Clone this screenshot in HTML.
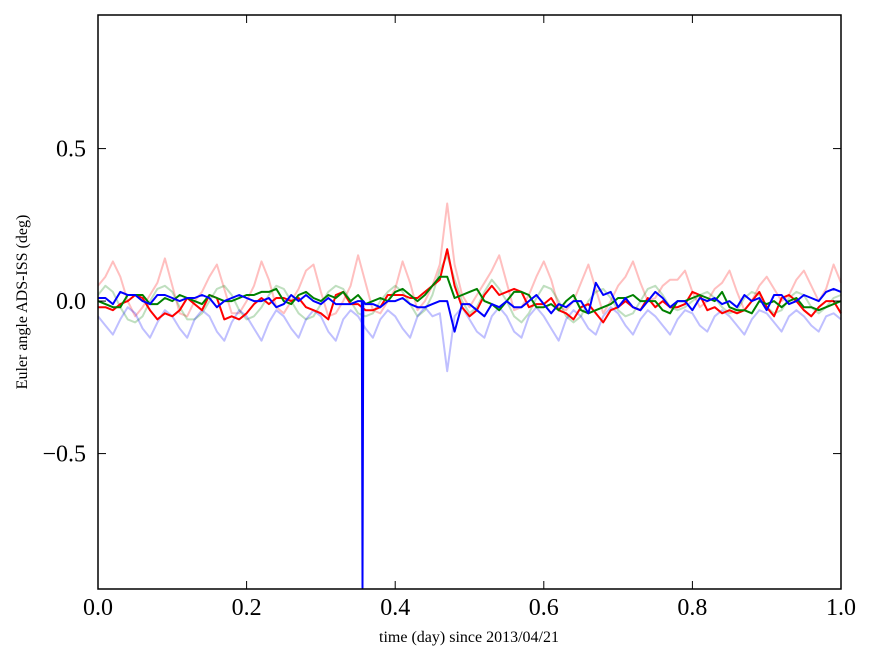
<!DOCTYPE html>
<html><head><meta charset="utf-8"><style>
html,body{margin:0;padding:0;background:#fff;width:875px;height:662px;overflow:hidden}
svg text{font-family:"Liberation Serif",serif}
</style></head><body>
<svg id="chart" width="875" height="662" xmlns="http://www.w3.org/2000/svg">
<g id="series"></g>
<g id="axes"></g>
<text x="469" y="642" font-size="16" text-anchor="middle">time (day) since 2013/04/21</text>
<text transform="translate(27,302) rotate(-90)" font-size="16" text-anchor="middle">Euler angle ADS-ISS (deg)</text>
</svg>
<script>
const times=[0,.01,.02,.03,.04,.05,.06,.07,.08,.09,.1,.11,.12,.13,.14,.15,.16,.17,.18,.19,.2,.21,.22,.23,.24,.25,.26,.27,.28,.29,.3,.31,.32,.33,.34,.35,.36,.37,.38,.39,.4,.41,.42,.43,.44,.45,.46,.47,.48,.49,.5,.51,.52,.53,.54,.55,.56,.57,.58,.59,.6,.61,.62,.63,.64,.65,.66,.67,.68,.69,.7,.71,.72,.73,.74,.75,.76,.77,.78,.79,.8,.81,.82,.83,.84,.85,.86,.87,.88,.89,.9,.91,.92,.93,.94,.95,.96,.97,.98,.99,1];
const faintRed=[.05,.08,.13,.08,0,-.05,-.02,.02,.06,.14,.05,-.04,-.05,0,.03,.08,.12,.04,-.04,-.04,0,.05,.13,.07,-.02,-.04,0,.04,.1,.12,.03,-.05,-.04,0,.05,.15,.06,-.03,-.04,0,.04,.13,.06,-.03,0,.05,.12,.32,.12,.02,-.02,.02,.06,.1,.15,.06,-.03,-.02,.02,.08,.13,.07,-.02,-.03,0,.06,.12,.04,-.04,0,.05,.08,.13,.06,0,.01,.05,.07,.07,.1,.03,-.02,0,.04,.06,.1,.03,-.03,0,.05,.08,.04,0,.02,.07,.1,.05,0,.04,.12,.06];
const faintGreen=[.02,.05,.03,-.02,-.06,-.07,-.05,0,.04,.05,.03,-.02,-.06,-.06,-.04,0,.04,.05,.02,-.03,-.06,-.05,-.02,.02,.05,.04,0,-.04,-.06,-.05,-.01,.03,.05,.04,0,-.04,-.05,-.04,0,.03,.05,.03,-.01,-.05,-.03,.02,.1,.15,.07,0,-.04,-.02,.03,.07,.04,0,-.05,-.07,-.04,.01,.05,.04,0,-.05,-.07,-.05,0,.03,.04,.01,-.03,-.05,-.04,0,.04,.05,.02,-.02,-.03,-.02,0,.02,.03,.01,-.02,-.04,-.03,.01,.03,.02,-.02,-.04,-.03,.01,.03,.02,-.02,-.04,-.02,.01,.02];
const faintBlue=[-.05,-.08,-.11,-.06,-.02,-.04,-.09,-.12,-.07,-.03,-.05,-.09,-.12,-.06,-.03,-.05,-.1,-.13,-.07,-.03,-.05,-.09,-.13,-.07,-.03,-.05,-.09,-.12,-.06,-.03,-.05,-.1,-.13,-.06,-.03,-.05,-.09,-.12,-.06,-.03,-.05,-.09,-.12,-.05,-.02,-.05,-.04,-.23,-.05,-.02,-.06,-.1,-.12,-.05,-.02,-.05,-.1,-.12,-.05,-.02,-.05,-.09,-.13,-.06,-.03,-.05,-.09,-.11,-.05,-.02,-.04,-.08,-.11,-.06,-.03,-.05,-.08,-.11,-.06,-.03,-.04,-.08,-.1,-.05,-.03,-.05,-.08,-.11,-.06,-.03,-.04,-.07,-.1,-.05,-.03,-.05,-.08,-.1,-.05,-.04,-.06];
const red=[-.02,-.02,-.03,-.01,0,.02,.01,-.03,-.06,-.04,-.05,-.03,.01,-.01,-.03,.02,.01,-.06,-.05,-.06,-.04,-.01,.01,-.01,.01,.01,.0,.01,-.02,-.03,-.04,-.06,.02,.03,-.01,-.01,-.03,-.03,-.02,.02,.02,.02,.01,.01,.03,.05,.07,.17,.05,-.02,-.05,-.03,.02,.05,.02,.03,.04,.03,-.02,-.01,-.01,.01,-.03,-.04,-.06,-.02,-.01,-.04,-.07,-.03,-.02,.0,-.02,-.03,.01,-.02,.0,-.02,-.02,-.01,.03,.02,-.03,-.02,-.04,-.03,-.04,-.03,.0,.03,-.02,-.05,.01,.02,.0,-.03,-.05,-.02,.0,.0,-.04];
const green=[0,-.01,-.02,-.02,.02,.02,.02,-.01,-.01,.01,.0,.02,.01,.0,-.01,.02,.01,.0,.0,.01,.02,.02,.03,.03,.04,.0,-.01,.02,.03,.01,.0,.02,.01,.03,.0,.02,-.01,.0,.01,.0,.03,.04,.02,.0,.02,.05,.08,.08,.01,.02,.03,.04,.0,-.01,-.03,.0,.03,.03,.02,-.02,-.02,-.01,-.03,.0,.02,-.03,-.04,-.03,-.02,-.01,.01,.01,.02,.0,.0,.0,-.03,-.04,.0,.0,.01,.02,.01,.0,.03,-.02,-.03,-.03,-.04,.0,-.01,.0,-.02,.0,.01,-.02,-.02,-.03,-.02,-.01,.0];
const blueTimes=[0,.01,.02,.03,.04,.05,.06,.07,.08,.09,.1,.11,.12,.13,.14,.15,.16,.17,.18,.19,.2,.21,.22,.23,.24,.25,.26,.27,.28,.29,.3,.31,.32,.33,.34,.35,.355,.356,.357,.36,.37,.38,.39,.4,.41,.42,.43,.44,.45,.46,.47,.48,.49,.5,.51,.52,.53,.54,.55,.56,.57,.58,.59,.6,.61,.62,.63,.64,.65,.66,.67,.68,.69,.7,.71,.72,.73,.74,.75,.76,.77,.78,.79,.8,.81,.82,.83,.84,.85,.86,.87,.88,.89,.9,.91,.92,.93,.94,.95,.96,.97,.98,.99,1];
const blue=[.01,.01,-.01,.03,.02,.02,.0,-.01,.02,.02,.01,.0,.01,.01,.02,.01,-.02,.0,.01,.02,.01,.0,.0,.01,-.02,-.01,.02,.0,.02,.0,-.01,.01,-.01,-.01,-.01,.0,.0,-.94,.0,-.01,-.01,-.02,.0,.0,.01,-.01,-.02,-.02,-.01,.0,.0,-.1,-.01,-.01,-.03,-.05,-.01,-.02,.0,-.02,-.02,.0,.02,-.01,-.04,-.01,-.02,.0,.0,-.04,.06,.02,.03,-.02,.01,-.02,-.03,.0,.03,.01,-.02,.0,.0,-.03,.01,.0,.01,-.01,.0,-.02,.02,.0,.01,-.03,.02,.02,-.01,.0,.02,.01,.0,.03,.04,.03];
const xTicks=[0,.2,.4,.6,.8,1];
const xTickLabels=["0.0","0.2","0.4","0.6","0.8","1.0"];
const yTicks=[.5,0,-.5];
const yTickLabels=["0.5","0.0","\u22120.5"];

const L=98,R=841,T=15,B=589,ymax=.938,ymin=-.944;
const X=v=>L+(v-0)/(1-0)*(R-L);
const Y=v=>T+(ymax-v)/(ymax-ymin)*(B-T);
const NS="http://www.w3.org/2000/svg";
const sg=document.getElementById('series');
function line(xs,ys,color,op,name){
  const n=Math.min(xs.length,ys.length);
  const p=document.createElementNS(NS,'path');
  p.setAttribute('d',ys.slice(0,n).map((v,i)=>(i?'L':'M')+X(xs[i]).toFixed(1)+','+Y(v).toFixed(1)).join(''));
  p.setAttribute('fill','none');p.setAttribute('stroke',color);p.setAttribute('stroke-width','2');
  p.setAttribute('stroke-opacity',op);p.setAttribute('stroke-linejoin','round');
  
  
  sg.appendChild(p);
}
line(times,faintRed,'#ff0000',.25,'faint-red-series');
line(times,faintGreen,'#008000',.25,'faint-green-series');
line(times,faintBlue,'#0000ff',.25,'faint-blue-series');
line(times,red,'#ff0000',1,'red-series');
line(times,green,'#008000',1,'green-series');
line(blueTimes,blue,'#0000ff',1,'blue-series');
const ax=document.getElementById('axes');
const fr=document.createElementNS(NS,'rect');
fr.setAttribute('x',L);fr.setAttribute('y',T);fr.setAttribute('width',R-L);fr.setAttribute('height',B-T);
fr.setAttribute('fill','none');fr.setAttribute('stroke','#000');fr.setAttribute('stroke-width','1.5');


ax.appendChild(fr);
function seg(x1,y1,x2,y2){const l=document.createElementNS(NS,'line');l.setAttribute('x1',x1);l.setAttribute('y1',y1);l.setAttribute('x2',x2);l.setAttribute('y2',y2);l.setAttribute('stroke','#000');l.setAttribute('stroke-width','1');


ax.appendChild(l);}
function txt(x,y,s,anchor,name){const t=document.createElementNS(NS,'text');t.setAttribute('x',x);t.setAttribute('y',y);t.setAttribute('font-size','24');t.setAttribute('text-anchor',anchor);t.textContent=s;


ax.appendChild(t);}
xTicks.forEach((v,i)=>{const x=X(v);seg(x,B,x,B-8);seg(x,T,x,T+8);txt(x,615,xTickLabels[i],'middle','x-tick-label');});
yTicks.forEach((v,i)=>{const y=Y(v);seg(L,y,L+8,y);seg(R,y,R-8,y);txt(L-12,y+8,yTickLabels[i],'end','y-tick-label');});
</script>
</body></html>
